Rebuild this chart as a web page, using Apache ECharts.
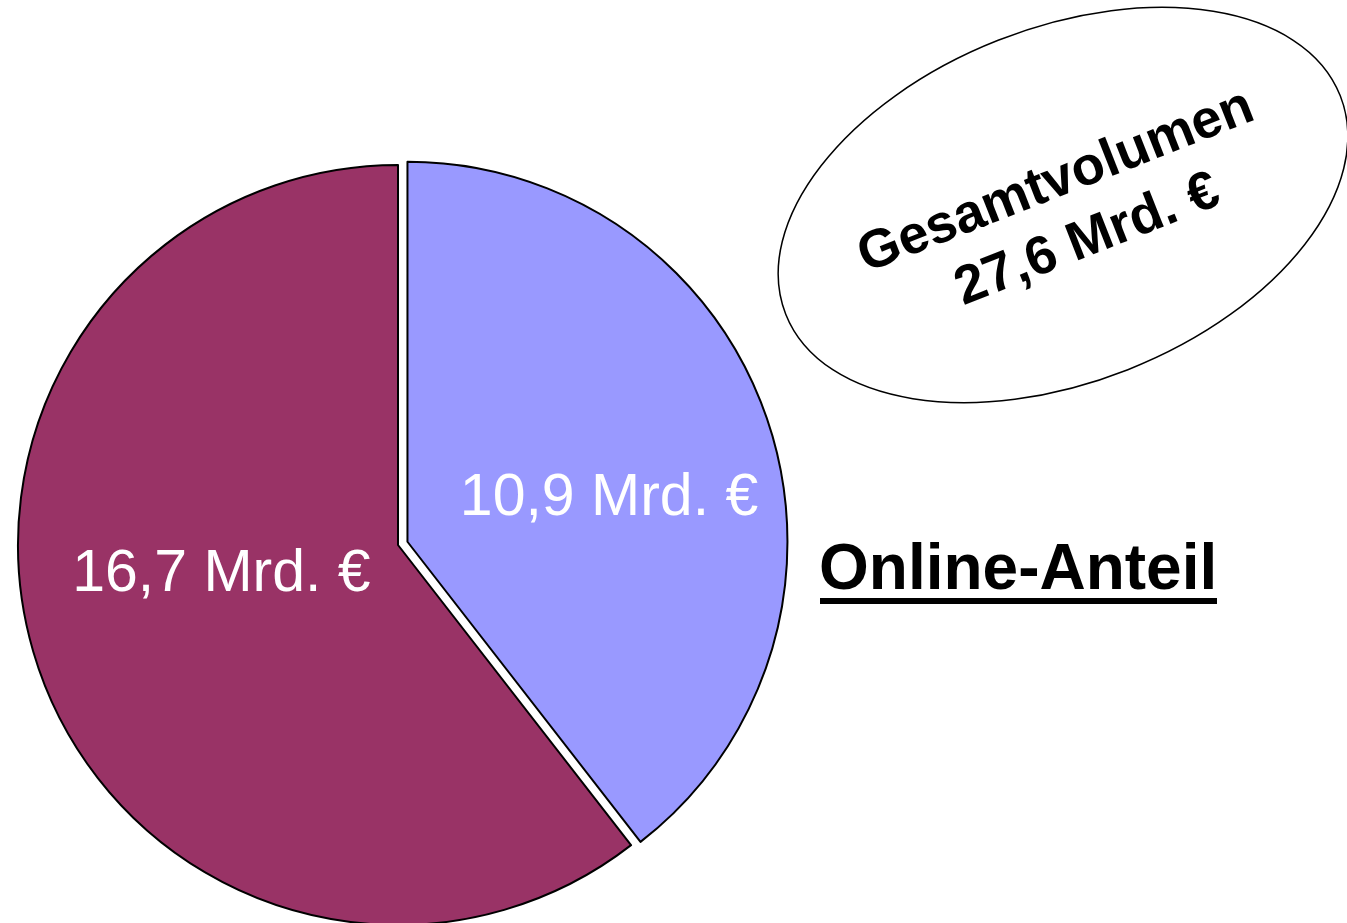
<!DOCTYPE html>
<html>
<head>
<meta charset="utf-8">
<script src="https://cdn.jsdelivr.net/npm/echarts@6/dist/echarts.min.js"></script>
<style>
html,body{margin:0;padding:0;background:#fff;}
#main{width:1347px;height:923px;}
</style>
</head>
<body>
<div id="main"></div>
<script>
const categories = ['Online-Anteil', 'Offline'];
const values = [10.9, 16.7];
const colors = ['#9999FF', '#993366'];
const totalValue = 27.6;
const totalTitle = 'Gesamtvolumen';
const onlineTitle = 'Online-Anteil';
const unit = ' Mrd. €';

function fmt(v) { return v.toFixed(1).replace('.', ',') + unit; }

const labelOffsets = [[19, 20], [6, -33]];

const chart = echarts.init(document.getElementById('main'), null, {renderer: 'canvas'});

const data = categories.map((c, i) => ({
  name: c,
  value: values[i],
  selected: i === 0,
  itemStyle: {color: colors[i]},
  label: {offset: labelOffsets[i]},
  select: {label: {offset: labelOffsets[i]}, itemStyle: {color: colors[i], borderColor: '#000', borderWidth: 2}}
}));

const angle = 21.5 * Math.PI / 180;

chart.setOption({
  animation: false,
  backgroundColor: '#ffffff',
  series: [{
    type: 'pie',
    center: [398, 545],
    radius: [0, 380],
    startAngle: 90,
    clockwise: true,
    selectedMode: 'single',
    selectedOffset: 10,
    avoidLabelOverlap: false,
    itemStyle: {borderColor: '#000', borderWidth: 2},
    emphasis: {disabled: true},
    label: {
      show: true,
      position: 'inside',
      rotate: 0,
      color: '#ffffff',
      fontFamily: 'Liberation Sans',
      fontSize: 59,
      formatter: p => fmt(p.value)
    },
    labelLine: {show: false},
    data: data
  }],
  graphic: [
    {
      type: 'ellipse',
      x: 1063, y: 205,
      rotation: angle,
      shape: {cx: 0, cy: 0, rx: 298, ry: 177},
      style: {fill: '#ffffff', stroke: '#000', lineWidth: 1.5}
    },
    {
      type: 'group',
      x: 1070, y: 212,
      rotation: angle,
      children: [
        {
          type: 'text',
          x: -2, y: -33,
          style: {text: totalTitle, fill: '#000', font: 'bold 54px "Liberation Sans"', textAlign: 'center', textVerticalAlign: 'middle'}
        },
        {
          type: 'text',
          x: 6, y: 33,
          style: {text: fmt(totalValue), fill: '#000', font: 'bold 54px "Liberation Sans"', textAlign: 'center', textVerticalAlign: 'middle'}
        }
      ]
    },
    {
      type: 'text',
      x: 819, y: 571,
      style: {text: onlineTitle, fill: '#000', font: 'bold 64px "Liberation Sans"', textAlign: 'left', textVerticalAlign: 'middle'}
    },
    {
      type: 'rect',
      shape: {x: 820, y: 598, width: 397, height: 6},
      style: {fill: '#000'}
    }
  ]
});
</script>
</body>
</html>
